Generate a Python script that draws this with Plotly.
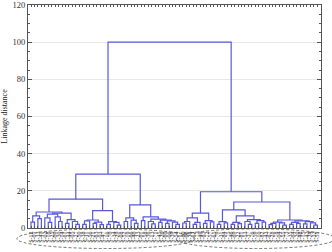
import plotly.graph_objects as go

# leaf labels in dendrogram order
LEAF_LABELS = [
    "S-12", "S-07", "S-33", "S-41", "S-02", "S-18", "S-25", "S-09", "S-30", "S-14",
    "S-61", "S-44", "S-05", "S-27", "S-50", "S-38", "S-11", "S-56", "S-21", "S-63",
    "S-03", "S-47", "S-16", "S-70", "S-34", "S-29", "S-08", "S-52", "S-19", "S-66",
    "S-40", "S-23", "S-01", "S-58", "S-36", "S-13", "S-71", "S-45", "S-26", "S-60",
    "S-06", "S-39", "S-54", "S-17", "S-80", "S-68", "S-74", "S-62", "S-77", "S-49",
    "S-83", "S-72", "S-57", "S-65", "S-79", "S-31", "S-84", "S-75", "S-46", "S-69",
    "S-22", "S-81", "S-53", "S-37", "S-76", "S-59", "S-10", "S-82", "S-43", "S-67",
    "S-28", "S-78", "S-04", "S-55", "S-73", "S-35", "S-64", "S-20", "S-48", "S-15",
    "S-42", "S-24", "S-32", "S-51",
]

Y_TICKS = [0, 20, 40, 60, 80, 100, 120]

# linkage tree: [merge height, left, right]; ints are leaf indices
A1 = [8.6,
      [6.5, [3.2, 0, 1], [5.0, 2, 3]],
      [8.0,
       [7.5, [5.5, 4, [3.0, 5, 6]], [6.0, 7, [3.5, 8, 9]]],
       [4.5, [2.5, 10, 11], [3.5, 12, [2.0, 13, 14]]]]]
A2 = [9.3,
      [4.3, [3.8, [2.0, 15, 16], 17], [3.2, [2.5, 18, 19], [1.8, 20, 21]]],
      [3.4, [2.0, 22, 23], [3.0, 24, [1.5, 25, 26]]]]
B = [12.4,
     [5.5, [3.5, 27, 28], [4.2, 29, [2.5, 30, 31]]],
     [6.0, [4.0, 32, 33],
      [4.8, [3.5, 34, [2.2, 35, 36]],
       [4.2, [3.0, 37, 38], [3.8, [2.5, 39, 40], [3.2, 41, [2.0, 42, 43]]]]]]]
C = [8.0,
     [5.4, [3.5, [2.7, 44, 45], 46], [3.0, [2.0, 47, 48], 49]],
     [4.0, [2.5, 50, 51], [3.3, 52, 53]]]
D1 = [9.7,
      [3.4, [2.0, 54, 55], [2.8, 56, 57]],
      [6.5, [3.0, [2.0, 58, 59], [2.4, 60, 61]],
       [4.5, [3.5, 62, [2.0, 63, 64]], [4.0, [2.5, 65, 66], [3.2, 67, 68]]]]]
D2 = [4.3,
      [3.2, [2.5, [1.8, 69, 70], 71], [2.8, 72, [1.6, 73, 74]]],
      [3.8, [3.0, [2.0, 75, 76], [2.5, 77, 78]],
       [3.4, [2.2, 79, 80], [2.8, 81, [1.5, 82, 83]]]]]
TREE = [100.0, [29.0, [15.5, A1, A2], B], [19.5, C, [14.0, D1, D2]]]

xs, ys = [], []


def walk(node):
    if isinstance(node, int):
        return float(node), 0.0
    h, a, b = node
    xa, ha = walk(a)
    xb, hb = walk(b)
    xs.extend([xa, xa, xb, xb, None])
    ys.extend([ha, h, h, hb, None])
    return (xa + xb) / 2.0, h


walk(TREE)

n = len(LEAF_LABELS)
fig = go.Figure()
fig.add_trace(go.Scatter(x=xs, y=ys, mode="lines",
                         line=dict(color="#5858d8", width=1.2),
                         hoverinfo="skip", showlegend=False))

serif = "Liberation Serif"
fig.update_layout(
    width=332, height=252,
    margin=dict(l=28, r=11, t=5, b=24, autoexpand=False),
    paper_bgcolor="white", plot_bgcolor="white",
    font=dict(family=serif, color="#222"),
    xaxis=dict(range=[-0.87, n + 0.06], tickmode="array",
               tickvals=list(range(n)), ticktext=LEAF_LABELS,
               tickangle=-90, tickfont=dict(size=6, family=serif, color="#2a2a2a"),
               ticklabeloverflow="allow", automargin=False,
               ticks="inside", ticklen=2, tickcolor="#555",
               showline=True, linecolor="#555", linewidth=1, mirror="allticks",
               showgrid=False, zeroline=False),
    yaxis=dict(range=[0, 120.001], tickmode="array", tickvals=Y_TICKS,
               tickfont=dict(size=8.5, family=serif, color="#333"),
               ticklabeloverflow="allow", automargin=False,
               ticks="inside", ticklen=4, tickcolor="#555",
               minor=dict(ticks="inside", dtick=5, ticklen=2, tickcolor="#555"),
               showline=True, linecolor="#555", linewidth=1, mirror="allticks",
               showgrid=True, gridcolor="#e8e8e8", gridwidth=1, zeroline=False,
               title=dict(text="Linkage distance",
                          font=dict(size=8, family=serif, color="#222"),
                          standoff=3)),
)

# dashed ellipses round the two groups of labels
fig.add_shape(type="circle", xref="paper", yref="paper",
              x0=-0.038, x1=0.57, y0=-0.092, y1=-0.004,
              line=dict(color="#555", width=0.8, dash="3px,2px"))
fig.add_shape(type="circle", xref="paper", yref="paper",
              x0=0.505, x1=1.05, y0=-0.092, y1=-0.004,
              line=dict(color="#555", width=0.8, dash="3px,2px"))

fig.write_html("out.html")
